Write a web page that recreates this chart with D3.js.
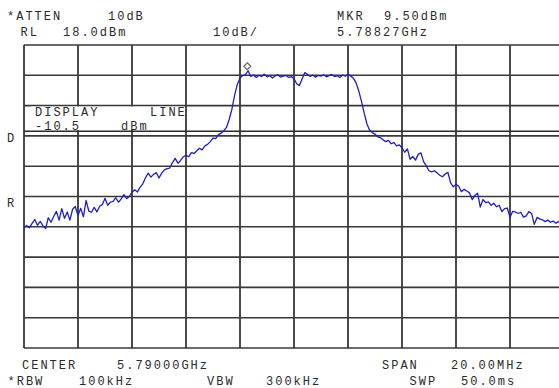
<!DOCTYPE html>
<html><head><meta charset="utf-8">
<script src="https://cdn.jsdelivr.net/npm/d3@7"></script>
<style>
html,body{margin:0;padding:0;background:#fff;overflow:hidden;}
svg text{font-family:"Liberation Mono","Courier New",monospace;font-size:12px;fill:#2a2a2a;letter-spacing:2px;}
</style></head>
<body>
<svg id="c" width="559" height="388"></svg>
<script>
// ---- data ----
const centerFreqMHz = 5790.0;
const spanMHz = 20.0;
const refLevel = 18.0;        // dBm (top of grid)
const dbPerDiv = 10;
const displayLine = -10.5;    // dBm
const markerFreqMHz = 5788.27;
const markerLevel = 9.50;
const freqGridTicks = [5780,5782,5784,5786,5788,5790,5792,5794,5796,5798,5800];
const levelGridTicks = [18,8,-2,-12,-22,-32,-42,-52,-62,-72,-82];
// trace amplitude (dBm), 201 sweep points from 5780 to 5800 MHz
const traceDbm = [
-42.4,-41.6,-42.3,-40.9,-39.6,-41.5,-40.2,-41.6,-42.6,-39.0,
-40.5,-38.6,-36.9,-39.8,-36.0,-39.2,-37.1,-39.8,-36.2,-35.3,
-38.3,-35.9,-38.7,-33.3,-36.8,-37.2,-35.6,-37.1,-35.2,-34.7,
-32.6,-34.9,-33.9,-33.6,-32.4,-33.9,-32.8,-31.4,-32.7,-32.0,
-30.6,-29.8,-30.5,-29.0,-27.8,-25.8,-24.3,-25.6,-24.7,-24.1,
-25.9,-24.3,-23.2,-22.8,-22.6,-20.8,-19.4,-21.0,-20.1,-18.9,
-18.4,-18.9,-17.5,-17.8,-16.9,-16.1,-16.6,-15.3,-14.8,-13.9,
-12.7,-12.9,-11.6,-11.1,-10.3,-9.2,-6.6,-3.2,1.4,5.0,
7.1,7.9,8.2,9.5,7.6,8.1,7.3,8.0,7.6,8.4,
7.5,7.9,7.1,7.8,8.2,7.4,7.7,8.0,7.3,7.6,
6.9,5.2,4.6,6.8,8.9,8.3,7.6,8.1,7.4,8.0,
7.7,8.2,7.5,7.9,8.3,7.6,7.9,7.3,8.1,7.7,
8.3,7.8,7.0,5.5,2.8,-0.6,-4.5,-8.0,-10.1,-10.9,
-11.4,-12.3,-12.6,-13.3,-13.9,-13.5,-14.6,-14.2,-15.3,-15.0,
-15.9,-17.4,-16.3,-19.7,-18.8,-20.0,-18.1,-17.6,-20.5,-21.9,
-23.5,-23.9,-23.5,-24.2,-25.0,-25.5,-24.6,-24.0,-27.5,-28.8,
-28.0,-28.6,-30.4,-29.6,-30.2,-30.8,-33.0,-31.6,-30.9,-35.5,
-33.0,-34.0,-33.8,-34.9,-34.2,-35.4,-34.9,-37.0,-36.0,-35.8,
-38.9,-36.9,-37.1,-37.6,-37.2,-38.8,-38.4,-37.0,-37.6,-41.2,
-38.9,-39.4,-39.7,-40.3,-39.8,-40.5,-40.1,-40.8,-40.3,-41.0,
-40.6
];
// annotation texts
const headerTexts = [
  {t:"*ATTEN", x:7, y:20}, {t:"10dB", x:108, y:20},
  {t:"RL", x:20.5, y:36}, {t:"18.0dBm", x:63, y:36},
  {t:"10dB/", x:213, y:36},
  {t:"MKR", x:337, y:20}, {t:"9.50dBm", x:384, y:20},
  {t:"5.78827GHz", x:337, y:35.5}
];
const footerTexts = [
  {t:"CENTER", x:22, y:368.5}, {t:"5.79000GHz", x:117, y:368.5},
  {t:"SPAN", x:382, y:368.5}, {t:"20.00MHz", x:451, y:368.5},
  {t:"*RBW", x:7.5, y:384.5}, {t:"100kHz", x:79, y:384.5},
  {t:"VBW", x:207, y:384.5}, {t:"300kHz", x:266, y:384.5},
  {t:"SWP", x:409.5, y:384.5}, {t:"50.0ms", x:461, y:384.5}
];
const sideTexts = [ {t:"D", x:7, y:142}, {t:"R", x:7, y:207} ];
const displayLineTexts = [
  {t:"DISPLAY", x:35, y:115.8}, {t:"LINE", x:150, y:115.8},
  {t:"-10.5", x:35, y:129.6}, {t:"dBm", x:121, y:129.6}
];

// ---- drawing ----
const svg = d3.select("#c");
const gLeft = 24, gTop = 45, divW = 54, divH = 30.3;
const startF = centerFreqMHz - spanMHz/2, stopF = centerFreqMHz + spanMHz/2;
const x = d3.scaleLinear().domain([startF, stopF]).range([gLeft, gLeft + 10*divW]);
const y = d3.scaleLinear().domain([refLevel, refLevel - 10*dbPerDiv]).range([gTop, gTop + 10*divH]);

svg.append("rect").attr("width",559).attr("height",388).attr("fill","#fff");

const grid = svg.append("g").attr("stroke","#1e1e1e").attr("stroke-width",1.6);
grid.selectAll("line.v").data(freqGridTicks).join("line").attr("class","v")
  .attr("x1",d=>x(d)).attr("x2",d=>x(d)).attr("y1",y(levelGridTicks[0])).attr("y2",y(levelGridTicks[levelGridTicks.length-1]));
grid.selectAll("line.h").data(levelGridTicks).join("line").attr("class","h")
  .attr("x1",x(startF)).attr("x2",x(stopF)).attr("y1",d=>y(d)).attr("y2",d=>y(d))
  .attr("stroke", "#383838");

// display line
svg.append("line").attr("x1",x(startF)).attr("x2",x(stopF))
  .attr("y1",y(displayLine)).attr("y2",y(displayLine))
  .attr("stroke","#2a2a2a").attr("stroke-width",1.5);

// display line label box
svg.append("rect").attr("x",31).attr("y",106.5).attr("width",153).attr("height",23.5).attr("fill","#fff");

// trace
const step = spanMHz/(traceDbm.length-1);
const line = d3.line().x((d,i)=>x(startF + i*step)).y(d=>y(d));
svg.append("path").datum(traceDbm).attr("d",line)
  .attr("fill","none").attr("stroke","#1f1fc4").attr("stroke-width",1.3).attr("stroke-linejoin","round");

// marker diamond
const mx = x(markerFreqMHz), my = y(markerLevel) - 4.5;
svg.append("path").attr("d",`M${mx},${my-3.5}L${mx+3.5},${my}L${mx},${my+3.5}L${mx-3.5},${my}Z`)
  .attr("fill","#fff").attr("stroke","#666").attr("stroke-width",1.2);

// texts
const allTexts = headerTexts.concat(footerTexts, sideTexts, displayLineTexts);
svg.selectAll("text.lbl").data(allTexts).join("text").attr("class","lbl")
  .attr("x",d=>d.x).attr("y",d=>d.y).text(d=>d.t);
</script>
</body></html>
